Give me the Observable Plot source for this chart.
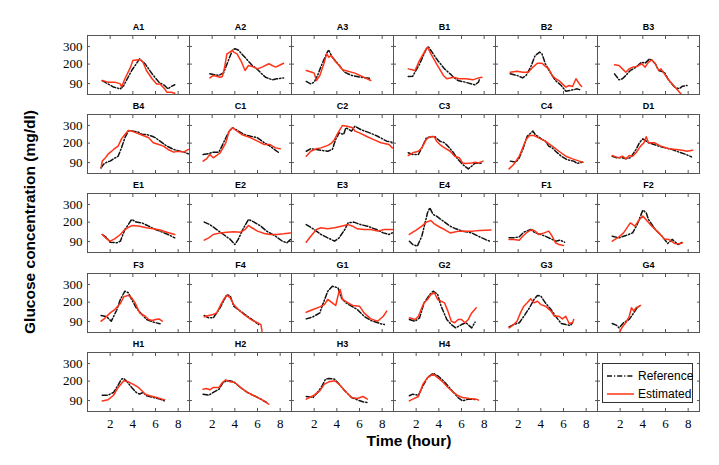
<!DOCTYPE html>
<html>
<head>
<meta charset="utf-8">
<script src="https://cdn.jsdelivr.net/npm/d3@7"></script>
<script src="https://cdn.jsdelivr.net/npm/@observablehq/plot@0.6"></script>
<style>
  body { margin: 0; background: #fff; }
  #chart { position: relative; width: 719px; height: 465px; overflow: hidden; background: #fff;
           font-family: "Liberation Sans", Arial, sans-serif; color: #000; }
  .panel { position: absolute; }
  svg.panel text { font-family: "Liberation Serif" !important; }
  svg.panel g.ptitle text { font-family: "Liberation Sans" !important; }
  .ytitle { position: absolute; left: 30px; top: 222px; transform: translate(-50%, -50%) rotate(-90deg);
            font-weight: bold; font-size: 15.5px; white-space: nowrap; }
  .xtitle { position: absolute; left: 409px; top: 441px; transform: translate(-50%, -50%);
            font-weight: bold; font-size: 15.5px; white-space: nowrap; }
  .legend { position: absolute; left: 602px; top: 363px; width: 91px; height: 40px; border: 1px solid #333;
            background: #fff; box-sizing: border-box; font-size: 12px; }
  .legend .item { position: absolute; left: 4px; height: 14px; display: flex; align-items: center; gap: 4px; white-space: nowrap; }
</style>
</head>
<body>
<div id="chart">
  <div class="ytitle">Glucose concentration (mg/dl)</div>
  <div class="xtitle">Time (hour)</div>
</div>
<script>
// ---- tick labels ----
const xTicks = [2, 4, 6, 8];
const yTicks = [90, 200, 300];

// ---- panel names (row-major, 6 per row) ----
const panelNames = ["A1","A2","A3","B1","B2","B3","B4","C1","C2","C3","C4","D1",
                    "E1","E2","E3","E4","F1","F2","F3","F4","G1","G2","G3","G4",
                    "H1","H2","H3","H4"];

// ---- series: [time (hour), glucose (mg/dl)] ----
const refA1 = [[1.3,107],[2.3,70],[2.9,60],[3.2,79],[3.9,164],[4.6,230],[5.1,200],[5.7,145],[6.3,98],[6.8,79],[7.1,60],[7.4,74],[7.7,83]];
const estA1 = [[1.3,107],[1.8,98],[2.4,98],[2.9,88],[3.0,70],[3.3,117],[3.8,183],[4.0,221],[4.6,226],[4.9,211],[5.2,164],[5.7,117],[6.1,88],[6.4,88],[6.8,60],[7.0,41],[7.4,41],[7.7,35]];
const refA2 = [[1.8,145],[2.2,140],[2.6,136],[3.0,150],[3.4,215],[3.8,281],[4.0,287],[4.3,280],[4.8,245],[5.5,195],[6.0,170],[6.3,150],[6.7,126],[7.3,111],[7.7,117],[8.3,122]];
const estA2 = [[1.8,122],[2.1,136],[2.7,126],[2.9,130],[3.1,183],[3.3,258],[3.8,277],[3.9,268],[4.2,258],[4.3,245],[4.6,211],[4.9,164],[5.2,192],[5.7,183],[6.0,173],[6.4,183],[7.0,202],[7.3,192],[7.6,183],[7.9,192],[8.3,205]];
const refA3 = [[1.3,102],[1.7,88],[2.0,98],[2.3,136],[2.7,202],[3.2,273],[3.3,277],[3.6,239],[4.1,202],[4.7,154],[5.3,136],[6.1,126],[6.9,120]];
const estA3 = [[1.3,164],[1.8,154],[2.0,149],[2.2,107],[2.5,136],[2.9,211],[3.1,258],[3.3,239],[3.5,249],[3.8,221],[4.2,192],[4.5,168],[5.6,149],[7.0,107]];
const refB1 = [[1.3,130],[1.7,132],[2.3,200],[2.9,287],[3.1,296],[3.5,258],[3.9,221],[4.5,173],[5.0,145],[5.3,126],[5.7,107],[6.3,98],[6.9,88],[7.2,83],[7.5,98],[7.6,117]];
const estB1 = [[1.3,173],[1.9,164],[2.3,221],[2.9,287],[3.0,296],[3.3,258],[3.8,202],[4.4,136],[4.7,117],[5.3,126],[5.8,117],[6.4,117],[7.0,111],[7.5,122],[7.8,125]];
const refB2 = [[1.3,145],[1.9,136],[2.4,122],[2.7,136],[3.1,183],[3.5,249],[3.9,268],[4.1,258],[4.4,202],[4.9,145],[5.3,107],[5.8,79],[6.2,47],[6.6,51],[7.2,60],[7.5,54]];
const estB2 = [[1.3,154],[1.9,160],[2.4,154],[2.9,154],[3.3,183],[3.7,205],[4.1,205],[4.4,187],[4.7,173],[5.0,136],[5.3,117],[5.6,107],[5.9,88],[6.2,70],[6.5,79],[6.8,73],[7.1,117],[7.4,88],[7.6,73]];
const refB3 = [[1.5,145],[1.9,111],[2.2,117],[2.5,136],[2.9,164],[3.4,183],[3.9,211],[4.2,205],[4.6,230],[4.8,221],[5.1,202],[5.4,164],[5.9,154],[6.3,107],[6.8,70],[7.2,60],[7.5,75],[7.9,79]];
const estB3 = [[1.5,196],[1.9,192],[2.2,173],[2.5,154],[2.8,173],[3.1,183],[3.5,187],[3.9,202],[4.2,183],[4.5,211],[4.8,224],[5.1,202],[5.4,164],[5.6,173],[5.9,145],[6.2,117],[6.6,88],[7.1,51],[7.4,28]];
const refB4 = [[1.2,60],[1.4,79],[1.7,92],[2.0,98],[2.3,111],[2.7,126],[3.0,173],[3.3,230],[3.6,268],[3.9,268],[4.5,262],[4.8,249],[5.2,249],[5.7,239],[6.0,230],[6.4,211],[7.0,183],[7.6,164],[8.5,149],[8.9,139]];
const estB4 = [[1.2,60],[1.3,98],[1.5,111],[1.8,136],[2.3,164],[2.7,183],[3.0,224],[3.3,249],[3.6,271],[3.9,268],[4.3,258],[4.9,243],[5.4,230],[5.8,202],[6.3,192],[6.7,183],[7.1,164],[7.6,149],[8.0,154],[8.5,149],[8.9,164]];
const refC1 = [[1.2,136],[1.7,141],[2.1,149],[2.6,149],[3.0,202],[3.5,268],[3.8,287],[4.2,273],[4.8,249],[5.4,239],[6.0,230],[6.6,202],[7.1,183],[7.9,145]];
const estC1 = [[1.2,98],[1.5,111],[1.8,136],[2.1,117],[2.4,130],[2.7,145],[3.2,202],[3.5,268],[3.8,287],[4.0,277],[4.6,249],[5.4,230],[6.0,211],[6.6,192],[7.1,192],[7.6,173],[8.0,168]];
const refC2 = [[1.3,154],[1.7,168],[2.2,164],[2.6,160],[3.2,154],[3.6,164],[3.9,221],[4.2,258],[4.6,249],[4.8,287],[5.3,268],[5.6,296],[6.1,277],[6.9,258],[7.6,239],[8.4,211],[8.9,205]];
const estC2 = [[1.3,126],[1.7,154],[2.2,168],[2.6,173],[3.2,187],[3.5,198],[3.8,221],[4.1,258],[4.5,300],[4.9,296],[5.4,287],[5.6,268],[6.0,258],[6.6,239],[7.2,221],[7.9,202],[8.6,192],[8.9,173]];
const refC3 = [[1.3,145],[1.7,136],[2.2,136],[2.5,173],[2.9,230],[3.3,236],[3.6,239],[4.1,211],[4.5,202],[4.8,183],[5.3,145],[5.7,107],[6.1,79],[6.6,54],[6.9,70],[7.2,88],[7.6,85],[7.8,88]];
const estC3 = [[1.3,130],[1.7,145],[2.2,154],[2.5,173],[2.9,221],[3.2,236],[3.6,236],[3.8,211],[4.1,192],[4.5,173],[5.0,154],[5.4,126],[5.8,117],[6.1,88],[6.4,85],[6.9,88],[7.2,92],[7.5,88],[7.9,98]];
const refC4 = [[1.3,98],[1.8,92],[2.1,117],[2.4,164],[2.8,239],[3.3,268],[3.5,249],[4.1,221],[4.4,211],[4.7,183],[5.0,173],[5.3,154],[5.8,126],[6.3,107],[6.9,98],[7.2,85],[7.7,92]];
const estC4 = [[1.2,54],[1.6,79],[2.1,126],[2.4,173],[2.7,221],[3.0,243],[3.4,243],[3.8,230],[4.4,211],[5.0,183],[5.6,154],[6.2,126],[6.8,111],[7.4,98],[7.7,92]];
const refD1 = [[1.3,126],[1.7,117],[2.2,117],[2.5,111],[2.9,117],[3.2,145],[3.4,164],[3.7,202],[4.0,224],[4.3,211],[4.5,202],[5.0,192],[5.4,183],[6.0,173],[6.6,164],[7.2,149],[7.8,136],[8.3,122]];
const estD1 = [[1.3,130],[1.6,122],[1.9,117],[2.2,126],[2.5,111],[2.8,130],[3.1,126],[3.4,145],[3.8,183],[4.1,202],[4.3,236],[4.5,202],[5.0,202],[5.6,183],[6.3,168],[6.9,164],[7.5,160],[7.9,154],[8.4,160]];
const refE1 = [[1.3,130],[1.7,111],[2.0,86],[2.6,83],[2.9,92],[3.3,158],[3.9,215],[4.3,200],[4.8,196],[5.4,177],[6.0,158],[6.6,143],[7.1,130],[7.7,111]];
const estE1 = [[1.3,130],[1.7,105],[2.0,92],[2.4,105],[2.9,130],[3.3,158],[3.8,177],[4.0,181],[4.6,177],[5.2,168],[5.8,162],[6.4,155],[7.0,143],[7.7,130]];
const refE2 = [[1.3,200],[1.8,186],[2.4,158],[3.0,130],[3.6,102],[4.0,73],[4.3,102],[4.7,158],[5.2,215],[5.7,200],[6.3,177],[6.8,149],[7.6,120],[8.2,92],[8.6,83],[8.9,102]];
const estE2 = [[1.3,98],[1.7,111],[2.1,130],[2.7,139],[3.3,143],[3.9,145],[4.5,143],[4.9,158],[5.2,181],[5.5,168],[6.0,149],[6.6,136],[7.1,130],[7.7,130],[8.3,134],[8.9,139]];
const refE3 = [[1.3,186],[2.0,158],[2.6,130],[3.2,111],[3.8,92],[4.2,111],[4.7,158],[5.0,196],[5.5,200],[6.1,186],[6.7,177],[7.5,158],[8.1,139],[8.6,130],[8.9,139]];
const estE3 = [[1.3,86],[1.7,120],[2.2,158],[2.6,168],[3.2,162],[3.8,168],[4.4,177],[5.0,186],[5.4,177],[5.8,162],[6.4,158],[7.0,158],[7.6,149],[8.2,158],[8.9,158]];
const refE4 = [[1.4,92],[1.7,73],[2.1,64],[2.5,120],[3.0,253],[3.2,281],[3.5,243],[3.8,234],[4.4,205],[5.0,177],[5.5,162],[6.1,149],[6.9,139],[7.5,120],[8.1,102],[8.5,92]];
const estE4 = [[1.4,130],[2.0,155],[2.5,177],[2.9,200],[3.3,209],[3.6,190],[4.1,171],[4.5,158],[5.0,139],[5.3,143],[5.8,149],[6.4,149],[7.0,149],[7.6,153],[8.6,155]];
const refF1 = [[1.2,111],[1.6,111],[2.1,117],[2.5,143],[3.1,158],[3.5,139],[4.0,130],[4.4,120],[4.9,105],[5.3,92],[5.7,98],[6.1,86]];
const estF1 = [[1.2,102],[1.6,102],[2.1,98],[2.4,120],[2.8,143],[3.2,158],[3.5,149],[3.8,130],[4.3,139],[4.7,149],[5.0,120],[5.3,83],[5.6,73],[6.0,68]];
const refF2 = [[1.3,120],[1.9,111],[2.5,124],[3.1,139],[3.5,186],[4.0,268],[4.3,253],[4.5,215],[5.1,158],[5.7,120],[6.2,79],[6.6,102],[7.1,73],[7.5,86]];
const estF2 = [[1.3,92],[1.9,117],[2.3,139],[2.9,196],[3.3,177],[3.7,215],[4.0,234],[4.4,205],[4.8,177],[5.4,139],[5.9,105],[6.3,102],[6.8,79],[7.2,77],[7.5,83]];
const refF3 = [[1.2,124],[1.7,117],[2.1,92],[2.6,158],[2.9,215],[3.3,262],[3.6,253],[3.9,215],[4.3,168],[4.8,130],[5.2,102],[5.8,87],[6.4,77]];
const estF3 = [[1.2,92],[1.5,107],[2.0,139],[2.4,158],[2.9,192],[3.2,230],[3.6,238],[3.9,224],[4.2,196],[4.6,139],[5.1,120],[5.4,102],[5.7,96],[6.0,102],[6.3,105],[6.6,92]];
const refF4 = [[1.3,124],[1.7,111],[2.1,111],[2.7,168],[3.3,243],[3.6,234],[3.9,177],[4.3,158],[4.9,130],[5.5,102],[6.1,73]];
const estF4 = [[1.3,117],[1.7,124],[2.1,130],[2.4,139],[2.7,177],[3.0,215],[3.3,238],[3.6,224],[3.9,186],[4.3,158],[4.8,130],[5.4,102],[6.0,83],[6.3,73],[6.4,35]];
const refG1 = [[1.3,105],[1.9,117],[2.5,139],[2.7,177],[3.2,262],[3.6,290],[4.1,281],[4.4,224],[4.8,196],[5.3,177],[5.8,158],[6.4,120],[7.0,96],[7.8,79],[8.2,73]];
const estG1 = [[1.3,143],[1.9,158],[2.5,173],[2.9,186],[3.2,215],[3.6,196],[3.9,181],[4.2,262],[4.3,271],[4.5,215],[5.0,196],[5.4,181],[6.0,177],[6.4,139],[7.0,105],[7.6,92],[8.1,120],[8.4,149]];
const refG2 = [[1.4,102],[1.9,92],[2.3,111],[2.7,196],[3.2,243],[3.5,262],[3.9,243],[4.2,177],[4.7,102],[5.1,73],[5.5,54],[6.0,73],[6.4,83],[6.9,54],[7.2,87]];
const estG2 = [[1.4,111],[1.9,102],[2.2,120],[2.5,168],[2.7,196],[3.0,215],[3.3,243],[3.6,253],[3.9,215],[4.2,205],[4.5,196],[4.8,149],[5.1,92],[5.4,83],[5.7,102],[6.0,102],[6.3,83],[6.6,102],[6.9,139],[7.3,168]];
const refG3 = [[1.2,60],[1.6,73],[2.1,83],[2.5,120],[3.0,168],[3.4,215],[3.7,238],[4.0,234],[4.4,196],[4.9,158],[5.3,120],[5.8,79],[6.2,73],[6.6,68],[6.8,83]];
const estG3 = [[1.2,54],[1.6,73],[1.9,92],[2.2,139],[2.5,177],[2.8,196],[3.1,219],[3.4,196],[3.7,205],[4.0,186],[4.4,177],[4.9,149],[5.2,120],[5.6,120],[5.9,105],[6.2,120],[6.5,79],[6.8,83],[6.9,102]];
const refG4 = [[1.3,79],[1.7,68],[1.9,54],[2.3,83],[2.8,102],[3.2,139],[3.5,168],[3.7,177]];
const estG4 = [[1.9,26],[2.2,60],[2.5,83],[2.8,120],[3.0,168],[3.2,149],[3.4,168],[3.7,177],[3.8,181]];
const refH1 = [[1.3,120],[1.8,120],[2.3,136],[2.7,177],[3.0,211],[3.2,215],[3.5,196],[3.9,164],[4.3,136],[4.6,126],[4.9,136],[5.2,117],[5.8,107],[6.4,98],[6.8,88]];
const estH1 = [[1.3,88],[1.8,94],[2.3,120],[2.7,164],[3.2,202],[3.6,196],[4.0,183],[4.5,164],[4.8,145],[5.1,126],[5.5,117],[6.1,107],[6.6,98],[6.8,94]];
const refH2 = [[1.2,126],[1.7,120],[2.1,136],[2.6,154],[3.0,196],[3.5,202],[3.9,196],[4.5,164],[5.1,136],[5.7,117],[6.3,98],[6.8,79]];
const estH2 = [[1.2,154],[1.5,158],[1.8,151],[2.1,164],[2.6,164],[2.9,192],[3.2,207],[3.6,196],[4.0,192],[4.5,164],[5.1,136],[5.7,117],[6.3,98],[6.7,83],[7.0,69]];
const refH3 = [[1.3,113],[1.9,107],[2.3,136],[2.7,173],[3.0,211],[3.3,215],[3.8,211],[4.2,183],[4.7,145],[5.3,107],[5.8,94],[6.3,83],[6.7,79]];
const estH3 = [[1.3,98],[1.9,117],[2.5,145],[2.9,183],[3.3,196],[3.8,202],[4.2,183],[4.7,145],[5.3,107],[5.8,102],[6.3,113],[6.7,98]];
const refH4 = [[1.4,117],[1.7,126],[2.2,120],[2.6,173],[3.0,220],[3.5,245],[3.9,230],[4.4,202],[4.8,173],[5.3,136],[5.7,107],[6.1,88],[6.6,98],[7.0,98],[7.3,94]];
const estH4 = [[1.4,88],[1.7,98],[2.2,113],[2.6,183],[3.0,220],[3.5,239],[3.9,220],[4.4,192],[4.8,164],[5.3,136],[5.7,117],[6.1,107],[6.7,102],[7.3,98],[7.5,92]];

const referenceSeries = [refA1,refA2,refA3,refB1,refB2,refB3,refB4,refC1,refC2,refC3,refC4,refD1,
                         refE1,refE2,refE3,refE4,refF1,refF2,refF3,refF4,refG1,refG2,refG3,refG4,
                         refH1,refH2,refH3,refH4];
const estimatedSeries = [estA1,estA2,estA3,estB1,estB2,estB3,estB4,estC1,estC2,estC3,estC4,estD1,
                         estE1,estE2,estE3,estE4,estF1,estF2,estF3,estF4,estG1,estG2,estG3,estG4,
                         estH1,estH2,estH3,estH4];

// ---- layout ----
const nCols = 6, nRows = 5;
const panelW = 102, panelH = 59;
const gridLeft = 87, gridTop = 35, rowStep = 79.2;
const refColor = "#111", estColor = "#ff3318", axisColor = "#555";
const refDash = "5,2,1.2,2";
const serif = "Liberation Serif";
const sans = "Liberation Sans";

const chart = document.getElementById("chart");

for (let i = 0; i < nCols * nRows; i++) {
  const row = Math.floor(i / nCols), col = i % nCols;
  const name = panelNames[i];
  const isLeft = col === 0, isBottom = row === nRows - 1;
  const mL = isLeft ? 40 : 0, mB = isBottom ? 24 : 0, mT = 16, mR = 0;

  const marks = [
    Plot.frame({stroke: axisColor}),
    Plot.axisX(xTicks, {anchor: "top", tickSize: -3, stroke: axisColor, fill: "none", label: null}),
    Plot.axisX(xTicks, {anchor: "bottom", tickSize: -3, tickPadding: 10, stroke: axisColor,
                        fill: isBottom ? "black" : "none", label: null, fontFamily: serif, fontSize: 13}),
    Plot.axisY(yTicks, {anchor: "right", tickSize: -3, stroke: axisColor, fill: "none", label: null}),
    Plot.axisY(yTicks, {anchor: "left", tickSize: -3, tickPadding: 8, stroke: axisColor,
                        fill: isLeft ? "black" : "none", label: null, fontFamily: serif, fontSize: 13})
  ];
  if (name) {
    marks.push(
      Plot.line(referenceSeries[i], {x: d => d[0], y: d => d[1], stroke: refColor, strokeWidth: 1.5,
                                     strokeDasharray: refDash, clip: true}),
      Plot.line(estimatedSeries[i], {x: d => d[0], y: d => d[1], stroke: estColor, strokeWidth: 1.5, clip: true}),
      Plot.text([name], {text: d => d, frameAnchor: "top", dy: -12, fontWeight: "bold", className: "ptitle",
                         fontFamily: sans, fontSize: 9, fill: "black"})
    );
  }

  const svg = Plot.plot({
    width: panelW + mL + mR,
    height: panelH + mT + mB,
    marginLeft: mL, marginRight: mR, marginTop: mT, marginBottom: mB,
    x: {domain: [0, 9]},
    y: {domain: [28, 362]},
    style: {background: "none", overflow: "visible", color: "black", fontFamily: serif, fontSize: "13px"},
    marks
  });
  svg.classList.add("panel");
  svg.style.position = "absolute";
  svg.style.left = (gridLeft + col * panelW - mL) + "px";
  svg.style.top = (gridTop + row * rowStep - mT) + "px";
  chart.appendChild(svg);
}

// ---- legend (inside last panel) ----
const legendItems = [
  {label: "Reference", color: refColor, dash: refDash},
  {label: "Estimated", color: estColor, dash: null}
];
const legend = document.createElement("div");
legend.className = "legend";
legendItems.forEach((it, k) => {
  const item = document.createElement("div");
  item.className = "item";
  item.style.top = (5 + k * 17.5) + "px";
  item.innerHTML = `<svg width="27" height="6"><line x1="0" y1="3" x2="27" y2="3" stroke="${it.color}" stroke-width="1.5" ${it.dash ? `stroke-dasharray="${it.dash}"` : ""}/></svg><span>${it.label}</span>`;
  legend.appendChild(item);
});
chart.appendChild(legend);
</script>
</body>
</html>
